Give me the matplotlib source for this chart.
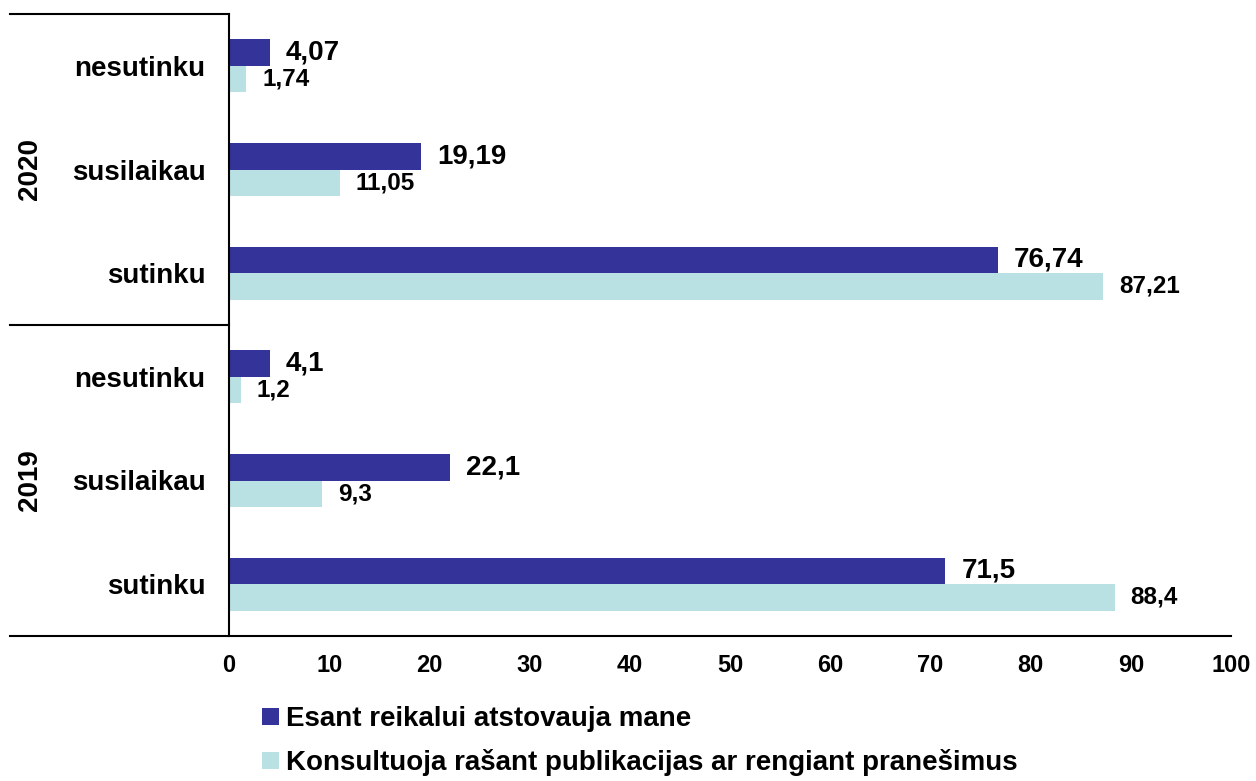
import matplotlib.pyplot as plt

plt.rcParams['font.family'] = ['Liberation Sans', 'DejaVu Sans']

categories = ['nesutinku', 'susilaikau', 'sutinku', 'nesutinku', 'susilaikau', 'sutinku']
years = ['2020', '2019']
represent = [4.07, 19.19, 76.74, 4.1, 22.1, 71.5]
consult = [1.74, 11.05, 87.21, 1.2, 9.3, 88.4]
series_names = ['Esant reikalui atstovauja mane',
                'Konsultuoja rašant publikacijas ar rengiant pranešimus']
xticks = [0, 10, 20, 30, 40, 50, 60, 70, 80, 90, 100]

dark = '#333399'
light = '#B9E0E2'

fig = plt.figure(figsize=(12.56, 7.81), dpi=100)
ax = fig.add_axes([229/1256, 1 - 636/781, 1002/1256, 622/781])

h = 0.255
pos = list(range(len(categories)))
b1 = ax.barh([p - h/2 for p in pos], represent, height=h, color=dark, label=series_names[0])
b2 = ax.barh([p + h/2 for p in pos], consult, height=h, color=light, label=series_names[1])

# dark series labels are a bit larger in the original
for bars, vals, fs in [(b1, represent, 20), (b2, consult, 17.5)]:
    for bar, v in zip(bars, vals):
        ax.annotate(str(v).replace('.', ','),
                    (bar.get_width(), bar.get_y() + bar.get_height()/2),
                    xytext=(11.5, 0), textcoords='offset points',
                    ha='left', va='center', fontsize=fs, fontweight='bold')

ax.set_xlim(0, 100)
ax.set_ylim(len(categories) - 0.5, -0.5)
ax.set_xticks(xticks)
ax.set_xticklabels([str(t) for t in xticks], fontsize=17, fontweight='bold')
ax.set_yticks(pos)
ax.set_yticklabels(categories, fontsize=20, fontweight='bold')
ax.tick_params(axis='both', length=0)
ax.tick_params(axis='x', pad=13)
ax.tick_params(axis='y', pad=17)

for s in ['top', 'right', 'bottom']:
    ax.spines[s].set_visible(False)
ax.spines['left'].set_linewidth(1.5)

left = -219/1002
ax.plot([left, 1.0], [0, 0], transform=ax.transAxes, color='black', lw=1.5, clip_on=False)
ax.plot([left, 0], [0.5, 0.5], transform=ax.transAxes, color='black', lw=1.5, clip_on=False)
ax.plot([left, 0], [1.0, 1.0], transform=ax.transAxes, color='black', lw=1.5, clip_on=False)

for yr, yc in zip(years, [0.75, 0.25]):
    ax.text(-199/1002, yc, yr, transform=ax.transAxes, rotation=90,
            ha='center', va='center', fontsize=20, fontweight='bold')

fig.legend(handles=[b1, b2], loc='upper left', bbox_to_anchor=(251/1256, 1 - 695/781),
           frameon=False, prop={'size': 20, 'weight': 'bold'},
           handlelength=0.6, handleheight=0.6, handletextpad=0.25, labelspacing=0.62,
           borderaxespad=0)

fig.savefig('out.png', dpi=100)
